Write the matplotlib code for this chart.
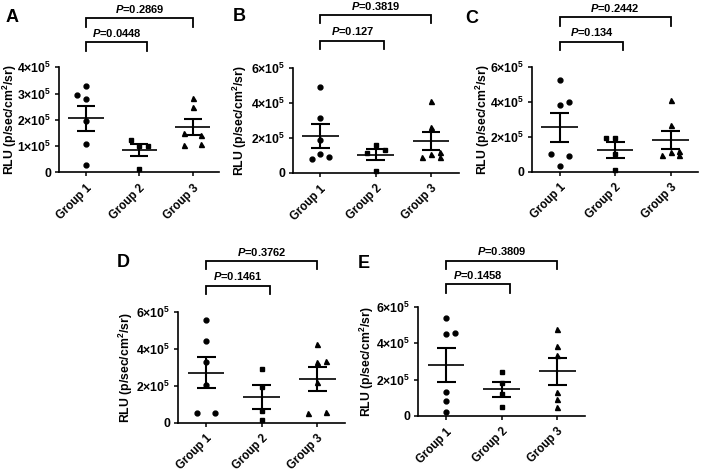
import matplotlib
matplotlib.use("Agg")
import matplotlib.pyplot as plt
import matplotlib.transforms as mtransforms
import numpy as np

plt.rcParams["font.family"] = ["Liberation Sans", "DejaVu Sans"]
plt.rcParams["font.weight"] = "bold"
plt.rcParams["mathtext.fontset"] = "custom"
plt.rcParams["mathtext.rm"] = "Liberation Sans:bold"
plt.rcParams["mathtext.bf"] = "Liberation Sans:bold"
plt.rcParams["mathtext.it"] = "Liberation Sans:bold:italic"

W, H = 703, 471

panels = ["A", "B", "C", "D", "E"]
groups = ["Group 1", "Group 2", "Group 3"]

# RLU (x1e5), one list per group
a_vals = [[3.30, 2.93, 2.79, 1.97, 1.09, 0.27],
          [1.24, 1.00, 1.00, 0.14],
          [2.84, 2.48, 1.50, 1.42, 1.05, 1.09]]
b_vals = [[4.88, 3.11, 1.90, 1.08, 0.78, 0.91],
          [1.58, 1.16, 1.29, 0.13],
          [4.08, 2.64, 0.91, 1.10, 1.22, 0.93]]
c_vals = [[5.26, 3.79, 4.00, 0.99, 0.90, 0.32],
          [1.94, 1.94, 1.03, 0.08],
          [4.08, 2.65, 0.93, 1.10, 1.20, 0.93]]
d_vals = [[5.56, 4.42, 3.30, 2.03, 0.51, 0.54],
          [2.92, 1.92, 0.63, 0.13],
          [4.26, 3.28, 3.35, 2.23, 0.51, 0.60]]
e_vals = [[5.38, 4.52, 4.55, 1.34, 0.82, 0.20],
          [2.40, 1.79, 1.19, 0.51],
          [4.77, 3.84, 3.35, 1.30, 0.93, 0.48]]

# scatter column used for overlapping points (-1 left, 0 centre, 1 right)
a_slots = [[0, -1, 0, 0, 0, 0], [-1, 0, 1, 0], [0, 0, -1, 1, -1, 1]]
b_slots = [[0, 0, 0, 0, -1, 1], [0, -1, 1, 0], [0, 0, -1, 0, 1, 1]]
c_slots = [[0, 0, 1, -1, 1, 0], [-1, 0, 0, 0], [0, 0, -1, 0, 1, 1]]
d_slots = [[0, 0, 0, 0, -1, 1], [0, 0, 0, 0], [0, 0, 1, 0, -1, 1]]
e_slots = [[0, 0, 1, 0, 0, 0], [0, 0, 0, 0], [0, 0, 0, 0, 0, 0]]

p_1v2 = ["0.0448", "0.127", "0.134", "0.1461", "0.1458"]
p_1v3 = ["0.2869", "0.3819", "0.2442", "0.3762", "0.3809"]

y_max = [4, 6, 6, 6, 6]
y_step = [1, 2, 2, 2, 2]

# axes box in pixels: left, top, right, bottom
boxes = [(59.3, 67.3, 219.3, 172.3),
         (292.7, 67.7, 458.7, 173.0),
         (532.0, 66.7, 698.3, 171.7),
         (178.3, 312.3, 345.0, 422.7),
         (418.3, 306.7, 585.0, 416.0)]
# bracket line heights above the axes top (pixels): 1 vs 3, 1 vs 2
bracket_up = [(49.0, 25.0), (52.7, 27.0), (49.4, 25.0), (51.3, 26.6), (46.0, 22.4)]
letter_pos = [(6, 17), (233, 16.5), (465, 18.5), (117, 262.5), (358, 264)]
# distance from y axis to the right edge of the y label (pixels)
ylabel_gap = [40.5, 44, 40, 43.5, 42.5]

markers = ["o", "s", "^"]
msizes = [3.5, 3.2, 3.6]


def ytick_label(v):
    if v == 0:
        return "0"
    return r"$%d{\times}10^{5}$" % v


def bracket(fig, ax, x0, x1, ypx, text):
    tr = mtransforms.blended_transform_factory(ax.transData, fig.transFigure)
    y = 1 - ypx / H
    leg = 8.3 / H
    ax.plot([x0, x0, x1, x1], [y - leg, y, y, y - leg], color="black",
            lw=1.3, transform=tr, clip_on=False, solid_joinstyle="miter")
    ax.text((x0 + x1) / 2, y + 9.5 / H, r"$\mathit{P}$=" + text, transform=tr,
            ha="center", va="center", fontsize=8, fontweight="bold")


fig = plt.figure(figsize=(W / 100, H / 100), dpi=100)

all_vals = [a_vals, b_vals, c_vals, d_vals, e_vals]
all_slots = [a_slots, b_slots, c_slots, d_slots, e_slots]

for k, name in enumerate(panels):
    l, t, r, b = boxes[k]
    ax = fig.add_axes([l / W, 1 - b / H, (r - l) / W, (b - t) / H])

    for i, (vals, sl) in enumerate(zip(all_vals[k], all_slots[k])):
        v = np.array(vals) * 1e5
        x = i + np.array(sl) * 0.16
        ax.plot(x, v, linestyle="none", marker=markers[i], ms=msizes[i],
                color="black", mec="black", clip_on=False, zorder=3)
        m = v.mean()
        se = v.std(ddof=1) / np.sqrt(len(v))
        ax.hlines(m, i - 0.33, i + 0.33, color="black", lw=1.2, zorder=4)
        ax.hlines([m - se, m + se], i - 0.17, i + 0.17, color="black", lw=1.5, zorder=4)
        ax.vlines(i, m - se, m + se, color="black", lw=1.5, zorder=4)

    ax.set_xlim(-0.5, 2.5)
    ax.set_ylim(0, y_max[k] * 1e5)
    ticks = np.arange(0, y_max[k] + 1, y_step[k])
    ax.set_yticks(ticks * 1e5, [ytick_label(v) for v in ticks])
    ax.set_xticks(range(3), groups, rotation=45, ha="right", rotation_mode="anchor")
    ax.tick_params(axis="both", direction="out", length=3, width=1.1, labelsize=8.3, pad=2.5)
    ax.tick_params(axis="y", labelsize=8.8)
    ax.tick_params(axis="x", pad=4)
    for s in ["top", "right"]:
        ax.spines[s].set_visible(False)
    for s in ["left", "bottom"]:
        ax.spines[s].set_linewidth(1.2)
    ax.set_ylabel(r"RLU (p/sec/cm$^{2}$/sr)", fontsize=8.8, fontweight="bold")
    ax.yaxis.set_label_coords(-ylabel_gap[k] / (r - l), 0.5)

    up13, up12 = bracket_up[k]
    bracket(fig, ax, 0, 2.0, t - up13, p_1v3[k])
    bracket(fig, ax, 0, 1.15, t - up12, p_1v2[k])

    lx, ly = letter_pos[k]
    fig.text(lx / W, 1 - ly / H, name, fontsize=13, fontweight="bold",
             ha="left", va="center")

fig.savefig("out.png", dpi=100)
